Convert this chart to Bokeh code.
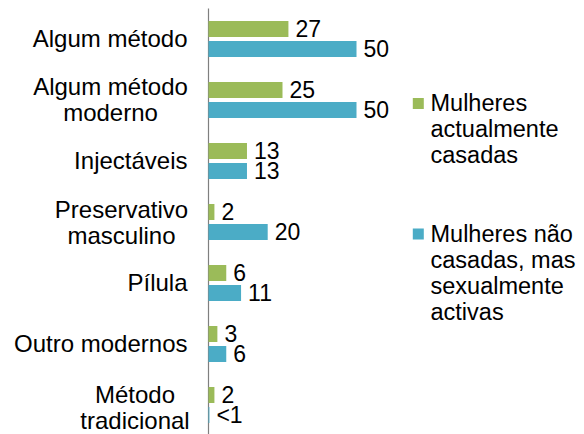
import numpy as np
from bokeh.plotting import figure
from bokeh.models import ColumnDataSource
from bokeh.core.properties import value
from bokeh.embed import file_html
from bokeh.resources import INLINE

# ---- data ----
categories = ["Algum método", "Algum método\nmoderno", "Injectáveis",
              "Preservativo\nmasculino", "Pílula", "Outro modernos",
              "Método\ntradicional"]
casadas = [27, 25, 13, 2, 6, 3, 2]
nao_casadas = [50, 50, 13, 20, 11, 6, 0.3]
casadas_labels = ["27", "25", "13", "2", "6", "3", "2"]
nao_casadas_labels = ["50", "50", "13", "20", "11", "6", "<1"]
series_names = ["Mulheres\nactualmente\ncasadas",
                "Mulheres não\ncasadas, mas\nsexualmente\nactivas"]

# ---- style / layout ----
GREEN = "#9BBB59"
BLUE = "#4BACC6"
FONT = "Liberation Sans"
FS = "23px"
FS_LEG = "23.5px"
FS_CAT = "24px"
W, H = 584, 434
PX_PER_UNIT = 2.96
AXIS_PX = 208
n = len(categories)
PX_PER_CAT = 61.0
FIRST_CENTRE_PX = 38.4

x0 = -AXIS_PX / PX_PER_UNIT
x1 = (W - AXIS_PX) / PX_PER_UNIT
ytop = (n - 0.5) + FIRST_CENTRE_PX / PX_PER_CAT
ybot = ytop - H / PX_PER_CAT

p = figure(width=W, height=H, output_backend="svg", toolbar_location=None,
           x_range=(x0, x1), y_range=(ybot, ytop), min_border=0,
           outline_line_color=None)
p.axis.visible = False
p.grid.visible = False
p.background_fill_color = "white"
p.border_fill_color = "white"

def px_x(px):
    return (px - AXIS_PX) / PX_PER_UNIT

def py_y(py):
    return ytop - py / PX_PER_CAT

centres = np.array([n - 0.5 - i for i in range(n)])
off = 10 / PX_PER_CAT
bh = 16 / PX_PER_CAT

src = ColumnDataSource(dict(
    yg=centres + off, yb=centres - off,
    g=casadas, b=nao_casadas,
    gl=casadas_labels, bl=nao_casadas_labels))

# axis line
p.segment(x0=[0], y0=[ybot], x1=[0], y1=[n], line_color="#7f7f7f", line_width=1.2)

p.hbar(y="yg", right="g", left=0, height=bh, source=src, color=GREEN, line_color=None)
p.hbar(y="yb", right="b", left=0, height=bh, source=src, color=BLUE, line_color=None)

p.text(x="g", y="yg", text="gl", source=src, x_offset=7, text_baseline="middle",
       text_align="left", text_font=value(FONT), text_font_size=FS, text_color="black")
p.text(x="b", y="yb", text="bl", source=src, x_offset=7, text_baseline="middle",
       text_align="left", text_font=value(FONT), text_font_size=FS, text_color="black")

# category labels
block_centre_px = {"Algum método\nmoderno": -98, "Preservativo\nmasculino": -87,
                   "Método\ntradicional": -73.5}
block_shift_px = {"Algum método\nmoderno": 0, "Preservativo\nmasculino": 1,
                  "Método\ntradicional": 3}
for c, yc in zip(categories, centres):
    lines = c.split("\n")
    if len(lines) == 1:
        p.text(x=[0], y=[yc], text=[c], x_offset=-21, text_align="right",
               text_baseline="middle", text_font=value(FONT), text_font_size=FS_CAT,
               text_color="black")
    else:
        for j, ln in enumerate(lines):
            p.text(x=[0], y=[yc], text=[ln], x_offset=block_centre_px[c],
                   y_offset=(j - (len(lines) - 1) / 2) * 26 + block_shift_px[c],
                   text_align="center",
                   text_baseline="middle", text_font=value(FONT), text_font_size=FS_CAT,
                   text_color="black")

# legend
leg_top_px = [102.5, 233]
for name, col, ty in zip(series_names, [GREEN, BLUE], leg_top_px):
    p.rect(x=[px_x(417.8)], y=[py_y(ty + 0.5)], width=11, height=11, width_units="screen",
           height_units="screen", color=col, line_color=None)
    for j, ln in enumerate(name.split("\n")):
        p.text(x=[px_x(430)], y=[py_y(ty + j * 26)], text=[ln], text_align="left",
               text_baseline="middle", text_font=value(FONT), text_font_size=FS_LEG,
               text_color="black")

open("out.html", "w").write(file_html(p, INLINE))
